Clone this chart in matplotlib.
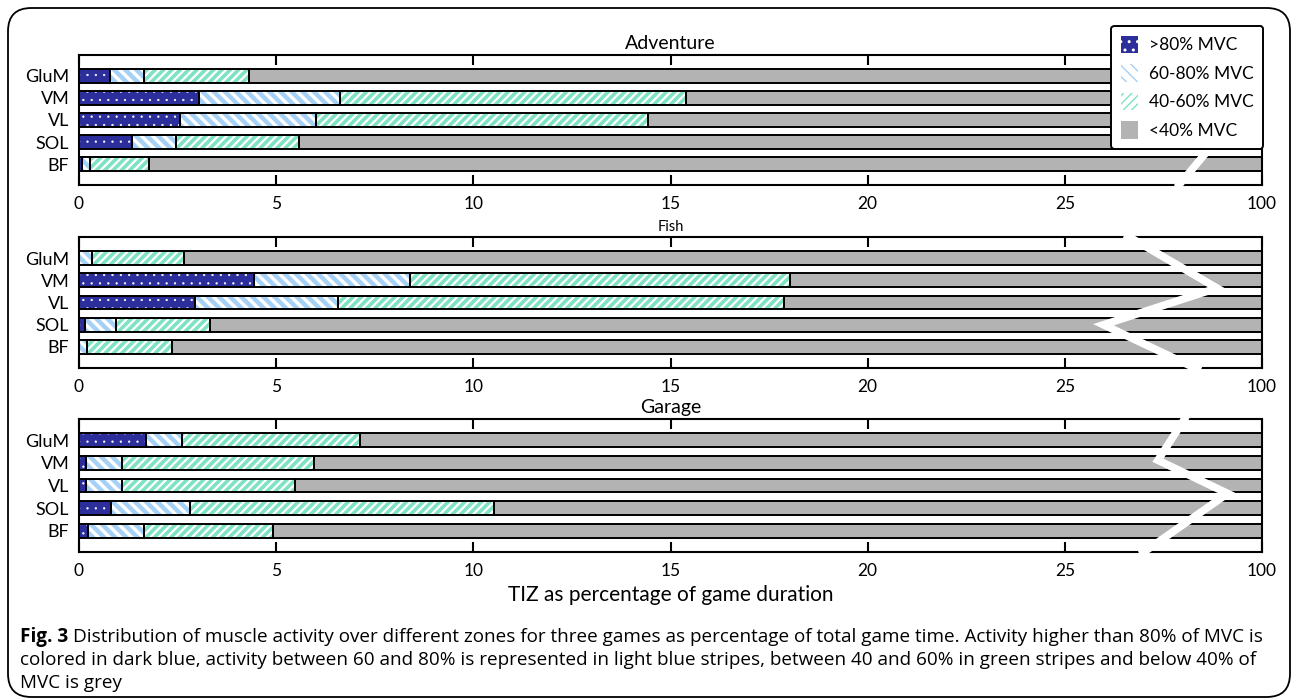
import numpy as np
import matplotlib
matplotlib.use("Agg")
import matplotlib.pyplot as plt
from matplotlib.patches import FancyBboxPatch, Patch
from matplotlib.lines import Line2D

plt.rcParams["font.family"] = ["Lato", "DejaVu Sans"]

# Muscles (rows, top to bottom) and games (panels)
muscles = ["GluM", "VM", "VL", "SOL", "BF"]
games = ["Adventure", "Fish", "Garage"]
zone_labels = [">80% MVC", "60-80% MVC", "40-60% MVC", "<40% MVC"]

# Time in zone (% of game duration) per muscle
adventure_above80 = [0.78, 3.04, 2.56, 1.35, 0.08]
adventure_60_80 = [0.86, 3.59, 3.46, 1.12, 0.19]
adventure_40_60 = [2.67, 8.77, 8.42, 3.12, 1.51]

fish_above80 = [0.00, 4.44, 2.94, 0.16, 0.00]
fish_60_80 = [0.34, 3.95, 3.64, 0.78, 0.20]
fish_40_60 = [2.33, 9.63, 11.29, 2.37, 2.16]

garage_above80 = [1.69, 0.17, 0.17, 0.82, 0.23]
garage_60_80 = [0.92, 0.91, 0.91, 1.99, 1.41]
garage_40_60 = [4.52, 4.87, 4.41, 7.72, 3.27]

game_data = {
    "Adventure": (adventure_above80, adventure_60_80, adventure_40_60),
    "Fish": (fish_above80, fish_60_80, fish_40_60),
    "Garage": (garage_above80, garage_60_80, garage_40_60),
}

xticks = [0, 5, 10, 15, 20, 25, 100]

# Broken x axis: linear up to 25, then 25..100 squeezed into 5 units
def fwd(x):
    x = np.asarray(x, dtype=float)
    return np.where(x <= 25, x, 25 + (x - 25) / 15.0)

def inv(y):
    y = np.asarray(y, dtype=float)
    return np.where(y <= 25, y, 25 + (y - 25) * 15.0)

dark_blue = "#2c2e9c"
light_blue = "#a6d1f6"
green = "#7fe2c3"
grey = "#b3b3b3"

zone_styles = [
    dict(facecolor=dark_blue, edgecolor="white", hatch=".."),
    dict(facecolor="white", edgecolor=light_blue, hatch="\\\\\\"),
    dict(facecolor="white", edgecolor=green, hatch="////"),
    dict(facecolor=grey, edgecolor=grey, hatch=None),
]
hatch_widths = [0.4, 3.2, 2.6, 1.0]

fig = plt.figure(figsize=(12.93, 7.0), dpi=100)

# rounded frame around the whole figure
frame = FancyBboxPatch((8 / 1293, 3 / 700), 1282 / 1293, 689 / 700,
                       boxstyle="round,pad=0,rounding_size=0.018",
                       transform=fig.transFigure, facecolor="none",
                       edgecolor="black", linewidth=1.3, mutation_aspect=1293 / 700)
fig.patches.append(frame)

axes_rects = [
    [79 / 1293, 1 - 185 / 700, 1183 / 1293, 130 / 700],
    [79 / 1293, 1 - 368 / 700, 1183 / 1293, 131 / 700],
    [79 / 1293, 1 - 552 / 700, 1183 / 1293, 133 / 700],
]

title_sizes = {"Adventure": 14, "Fish": 10.5, "Garage": 14}

# white zig-zag marking the axis break (axes fraction coordinates)
break_paths = {
    "Adventure": [(0.940, 1.0), (0.945, 0.5), (0.956, 0.285), (0.928, -0.02)],
    "Fish": [(0.884, 1.02), (0.962, 0.61), (0.866, 0.33), (0.948, -0.02)],
    "Garage": [(0.936, 1.02), (0.912, 0.69), (0.971, 0.44), (0.897, -0.02)],
}

ypos = np.arange(len(muscles))
bar_h = 0.62

axes = []
for game, rect in zip(games, axes_rects):
    ax = fig.add_axes(rect)
    axes.append(ax)
    ax.set_xscale("function", functions=(fwd, inv))
    a80, a6080, a4060 = (np.array(v) for v in game_data[game])
    below40 = 100 - (a80 + a6080 + a4060)
    widths = [a80, a6080, a4060, below40]
    left = np.zeros(len(muscles))
    for w, st, hw in zip(widths, zone_styles, hatch_widths):
        with plt.rc_context({"hatch.linewidth": hw}):
            ax.barh(ypos, w, left=left, height=bar_h, linewidth=0, zorder=2, **st)
        ax.barh(ypos, w, left=left, height=bar_h, facecolor="none",
                edgecolor="black", linewidth=1.4, zorder=3)
        left = left + w
    ax.set_xlim(0, 100)
    ax.set_ylim(len(muscles) - 1 + 0.95, -0.95)
    ax.set_yticks(ypos)
    ax.set_yticklabels(muscles, fontsize=13)
    ax.set_xticks(xticks)
    ax.set_xticklabels([str(t) for t in xticks], fontsize=12.5)
    ax.tick_params(axis="x", direction="in", top=True, length=7, width=1.5, pad=8)
    ax.tick_params(axis="y", length=0, pad=7)
    for sp in ax.spines.values():
        sp.set_linewidth(1.5)
    ax.set_title(game, fontsize=title_sizes[game], pad=4)
    pts = np.array(break_paths[game])
    ax.add_line(Line2D(pts[:, 0], pts[:, 1], transform=ax.transAxes, color="white",
                       linewidth=5.5, zorder=4, clip_on=False, solid_capstyle="butt",
                       solid_joinstyle="miter"))

axes[-1].set_xlabel("TIZ as percentage of game duration", fontsize=15, labelpad=4)

handles = []
for st, hw in zip(zone_styles, hatch_widths):
    with plt.rc_context({"hatch.linewidth": hw}):
        handles.append(Patch(linewidth=0, **st))
leg = fig.legend(handles, zone_labels, loc="upper right",
                 bbox_to_anchor=(1263 / 1293, 1 - 26 / 700), fontsize=12.5,
                 frameon=True, fancybox=True, framealpha=1, edgecolor="black",
                 handlelength=1.0, handleheight=1.2, handletextpad=0.6,
                 labelspacing=0.62, borderpad=0.55, borderaxespad=0)
leg.get_frame().set_linewidth(1.4)
leg.set_zorder(10)

# caption
cap_font = ["Open Sans", "DejaVu Sans"]
cap_size = 13.6
line1 = ("Distribution of muscle activity over different zones for three games as "
         "percentage of total game time. Activity higher than 80% of MVC is")
line2 = ("colored in dark blue, activity between 60 and 80% is represented in light "
         "blue stripes, between 40 and 60% in green stripes and below 40% of")
line3 = "MVC is grey"

x0 = 20 / 1293
bold = fig.text(x0, 1 - 637 / 700, "Fig. 3", fontsize=cap_size, family=cap_font,
                fontweight="bold", va="center", ha="left")
fig.canvas.draw()
bb = bold.get_window_extent()
x1 = (bb.x1 + 5) / fig.bbox.width
fig.text(x1, 1 - 637 / 700, line1, fontsize=cap_size, family=cap_font,
         va="center", ha="left")
fig.text(x0, 1 - 660 / 700, line2, fontsize=cap_size, family=cap_font,
         va="center", ha="left")
fig.text(x0, 1 - 683 / 700, line3, fontsize=cap_size, family=cap_font,
         va="center", ha="left")

fig.savefig("out.png", dpi=100)
